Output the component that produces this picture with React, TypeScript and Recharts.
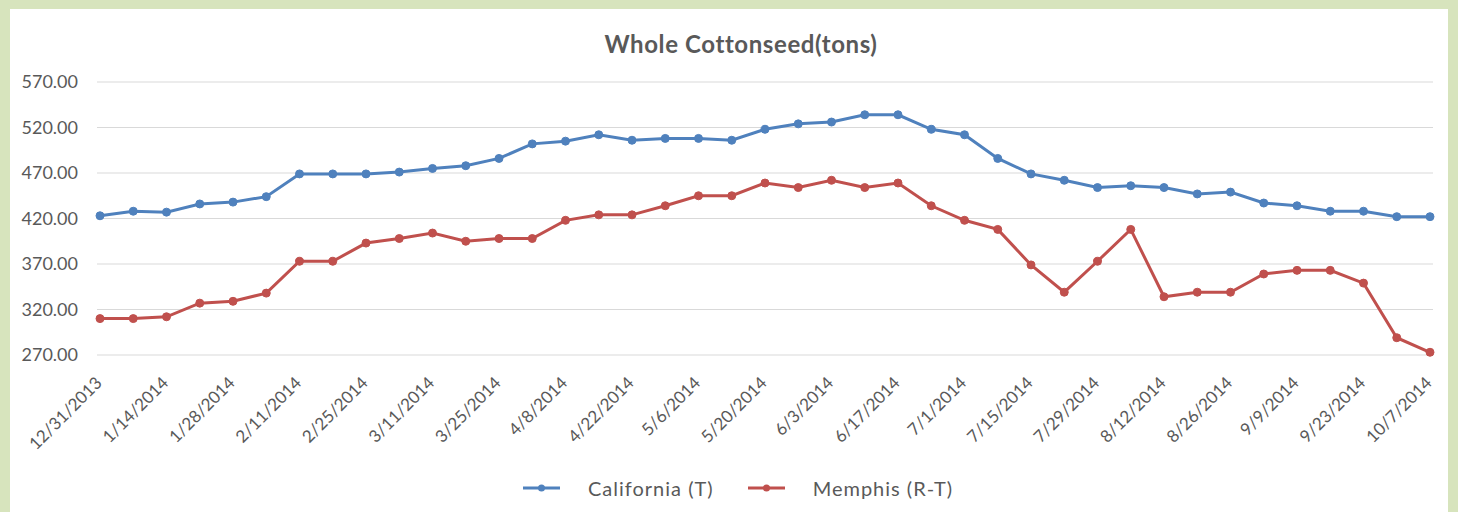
import { CartesianGrid, Line, LineChart, XAxis, YAxis } from 'recharts';

const dates = [
  '12/31/2013', '1/7/2014', '1/14/2014', '1/21/2014', '1/28/2014', '2/4/2014', '2/11/2014',
  '2/18/2014', '2/25/2014', '3/4/2014', '3/11/2014', '3/18/2014', '3/25/2014', '4/1/2014',
  '4/8/2014', '4/15/2014', '4/22/2014', '4/29/2014', '5/6/2014', '5/13/2014', '5/20/2014',
  '5/27/2014', '6/3/2014', '6/10/2014', '6/17/2014', '6/24/2014', '7/1/2014', '7/8/2014',
  '7/15/2014', '7/22/2014', '7/29/2014', '8/5/2014', '8/12/2014', '8/19/2014', '8/26/2014',
  '9/2/2014', '9/9/2014', '9/16/2014', '9/23/2014', '9/30/2014', '10/7/2014',
];

const california = [
  423, 428, 427, 436, 438, 444, 469, 469, 469, 471, 475, 478, 486, 502, 505, 512, 506, 508, 508,
  506, 518, 524, 526, 534, 534, 518, 512, 486, 469, 462, 454, 456, 454, 447, 449, 437, 434, 428,
  428, 422, 422,
];

const memphis = [
  310, 310, 312, 327, 329, 338, 373, 373, 393, 398, 404, 395, 398, 398, 418, 424, 424, 434, 445,
  445, 459, 454, 462, 454, 459, 434, 418, 408, 369, 339, 373, 408, 334, 339, 339, 359, 363, 363,
  349, 289, 273,
];

const yTicks = [270, 320, 370, 420, 470, 520, 570];

const series = [
  { key: 'california', name: 'California (T)', color: '#4F81BD' },
  { key: 'memphis', name: 'Memphis (R-T)', color: '#C0504D' },
];

const data = dates.map((date, i) => ({ date, california: california[i], memphis: memphis[i] }));

const FONT = 'Lato, "Open Sans", sans-serif';
const TEXT = '#595959';

function DateTick(props: any) {
  const { x, y, payload } = props;
  return (
    <g transform={`translate(${x + 3},${y + 29})`}>
      <text x={0} y={0} textAnchor="end" transform="rotate(-45)" fill={TEXT} fontSize={17} fontFamily={FONT}>
        {payload.value}
      </text>
    </g>
  );
}

export default function App() {
  return (
    <div style={{ position: 'absolute', left: 0, top: 0, width: 1458, height: 512, background: '#d7e4bd', overflow: 'hidden' }}>
      <div style={{ position: 'absolute', left: 10, top: 9, width: 1438, height: 503, background: '#fff' }}>
        <div
          style={{
            position: 'absolute',
            left: 0,
            top: 20,
            width: 1462,
            textAlign: 'center',
            fontFamily: FONT,
            fontWeight: 700,
            fontSize: 24,
            letterSpacing: 0.6,
            color: TEXT,
          }}
        >
          Whole Cottonseed(tons)
        </div>
        <LineChart width={1438} height={503} data={data} margin={{ top: 73, right: 15, bottom: 0, left: 0 }}>
          <CartesianGrid vertical={false} stroke="#d9d9d9" strokeWidth={1} />
          <XAxis
            dataKey="date"
            interval={1}
            height={157}
            tickLine={false}
            axisLine={false}
            tickSize={0}
            tickMargin={0}
            padding={{ left: 3, right: 3 }}
            tick={<DateTick />}
          />
          <YAxis
            domain={[270, 570]}
            ticks={yTicks}
            width={87}
            tickLine={false}
            axisLine={false}
            tickSize={0}
            tickMargin={19}
            tickFormatter={(v: number) => v.toFixed(2)}
            tick={{ fill: TEXT, fontSize: 18, fontFamily: FONT }}
          />
          {series.map((s) => (
            <Line
              key={s.key}
              dataKey={s.key}
              name={s.name}
              stroke={s.color}
              strokeWidth={3}
              dot={{ r: 4, fill: s.color, stroke: s.color, strokeWidth: 1 }}
              isAnimationActive={false}
            />
          ))}
        </LineChart>
        <div
          style={{
            position: 'absolute',
            left: 513,
            top: 467,
            display: 'flex',
            alignItems: 'center',
            fontFamily: FONT,
            fontSize: 20,
            letterSpacing: 1,
            color: TEXT,
          }}
        >
          {series.map((s, i) => (
            <div key={s.key} style={{ display: 'flex', alignItems: 'center', marginLeft: i === 0 ? 0 : 34 }}>
              <svg width={37} height={10}>
                <line x1={0} y1={5} x2={37} y2={5} stroke={s.color} strokeWidth={3} />
                <circle cx={18.5} cy={5} r={3.5} fill={s.color} />
              </svg>
              <span style={{ marginLeft: 28 }}>{s.name}</span>
            </div>
          ))}
        </div>
      </div>
    </div>
  );
}
